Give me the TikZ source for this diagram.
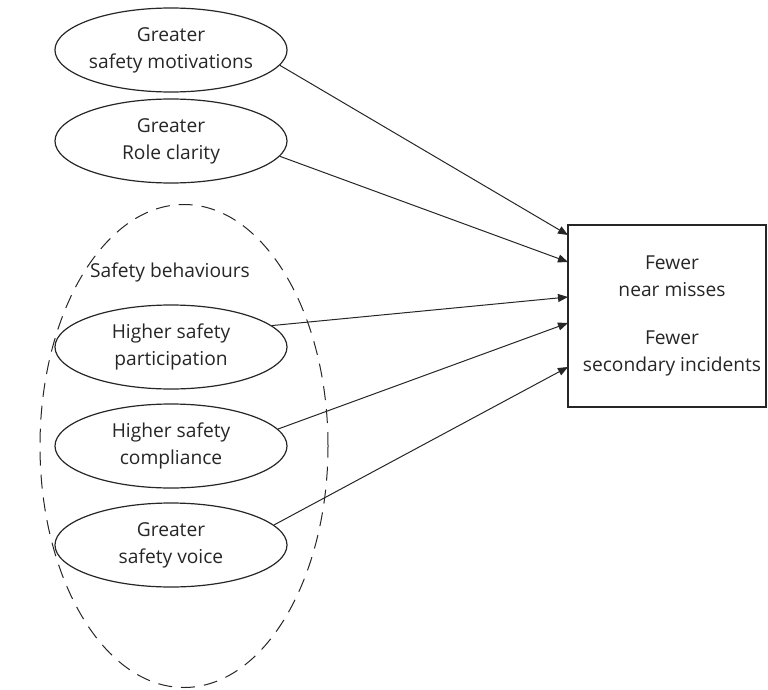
\documentclass[tikz,border=0pt]{standalone}
\usepackage{fontspec}
\setmainfont{Open Sans}
\usetikzlibrary{arrows.meta,shapes.geometric}
\definecolor{ink}{HTML}{262626}
\begin{document}
\begin{tikzpicture}[x=1pt,y=-1pt,
  every node/.style={text=ink,font=\fontsize{19.2}{27}\selectfont},
  oval/.style={draw=ink,line width=1.2pt,ellipse,minimum width=232pt,minimum height=84pt,inner sep=0pt,align=center},
  group/.style={draw=ink,line width=1pt,ellipse,minimum width=288pt,minimum height=483pt,inner sep=0pt,dash pattern=on 14pt off 9pt},
  outbox/.style={draw=ink,line width=1.2pt,minimum width=198pt,minimum height=182pt,inner sep=0pt,align=center},
  link/.style={draw=ink,line width=1pt,-{Triangle[length=10pt,width=8pt]}}]
\useasboundingbox (0,0) rectangle (768,690);
\node[group] (grp) at (184,446) {};
\node (lbl) at (170,272) {Safety behaviours};
\node[oval] (e1) at (171,50) {Greater\\safety motivations};
\node[oval] (e2) at (171,141) {Greater\\Role clarity};
\node[oval] (e3) at (171,347) {Higher safety\\participation};
\node[oval] (e4) at (171,446) {Higher safety\\compliance};
\node[oval] (e5) at (171,545) {Greater\\safety voice};
\node[outbox] (r) at (667,316) {};
\node (o1) at (672,276) [align=center] {Fewer\\near misses};
\node (o2) at (672,353) [align=center] {Fewer\\secondary incidents};
\coordinate (t1) at (568,235);
\coordinate (t2) at (568,262);
\coordinate (t3) at (568,297);
\coordinate (t4) at (568,323);
\coordinate (t5) at (568,367);
\draw[link] (e1.-8) -- (t1);
\draw[link] (e2.-8) -- (t2);
\draw[link] (e3.12) -- (t3);
\draw[link] (e4.9) -- (t4);
\draw[link] (e5.11) -- (t5);
\end{tikzpicture}
\end{document}
